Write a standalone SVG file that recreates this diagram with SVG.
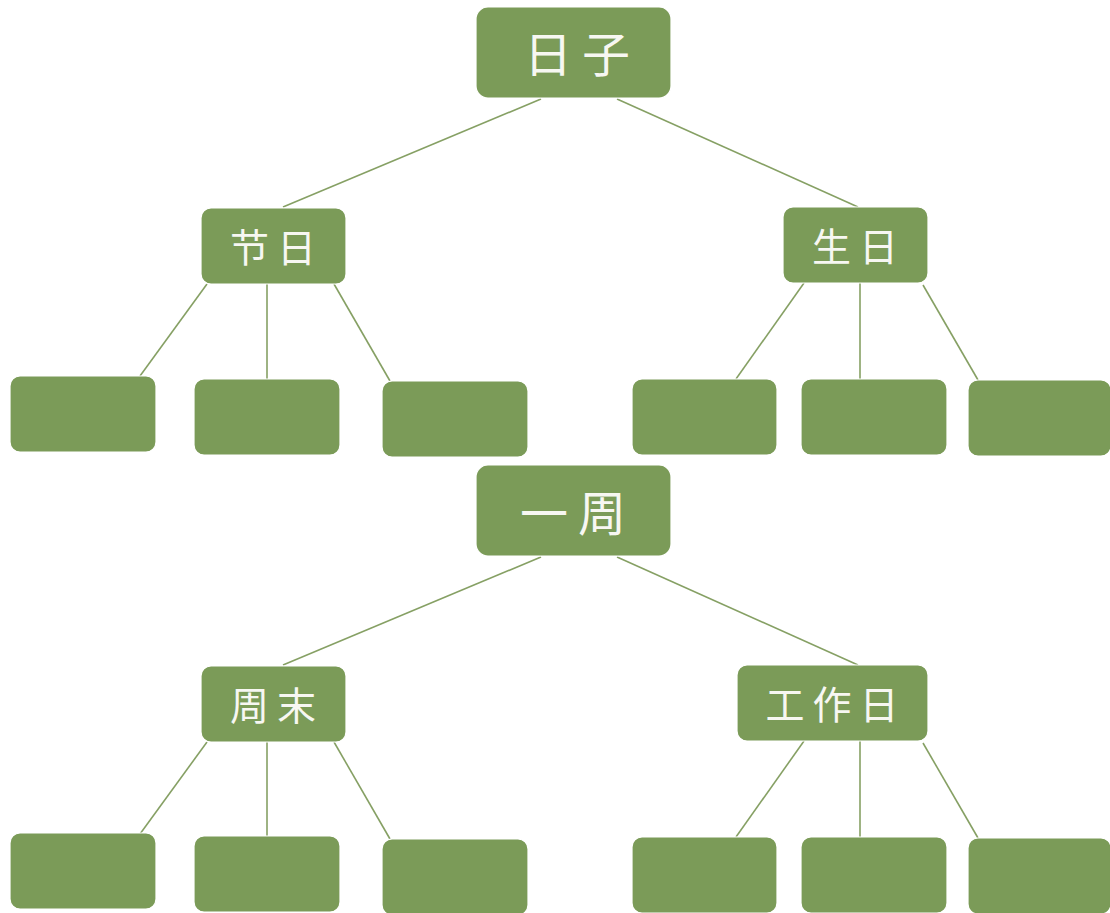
<svg xmlns="http://www.w3.org/2000/svg" width="1110" height="913" viewBox="0 0 1110 913">
<style>
.box{fill:#7b9b58;stroke:#ffffff;stroke-width:1.2}
.ln{stroke:#86a064;stroke-width:1.6;fill:none}
.t{fill:#f7f7f2;font-family:"Noto Sans CJK SC","Noto Sans CJK TC",sans-serif;font-weight:400;text-anchor:middle;dominant-baseline:central}
.big{font-size:48px;letter-spacing:10px}
.mid{font-size:39px;letter-spacing:8px}
</style>
<rect width="1110" height="913" fill="#ffffff"/>
<g id="connectors">
<line class="ln" x1="541" y1="99" x2="283" y2="207"/>
<line class="ln" x1="617" y1="99" x2="858" y2="207"/>
<line class="ln" x1="207" y1="284" x2="140" y2="376"/>
<line class="ln" x1="267" y1="284" x2="267" y2="379"/>
<line class="ln" x1="334" y1="284" x2="390" y2="381"/>
<line class="ln" x1="804" y1="283" x2="736" y2="379"/>
<line class="ln" x1="860" y1="283" x2="860" y2="379"/>
<line class="ln" x1="923" y1="285" x2="978" y2="380"/>
<line class="ln" x1="541" y1="557" x2="283" y2="665"/>
<line class="ln" x1="617" y1="557" x2="858" y2="665"/>
<line class="ln" x1="207" y1="742" x2="140" y2="834"/>
<line class="ln" x1="267" y1="742" x2="267" y2="837"/>
<line class="ln" x1="334" y1="742" x2="390" y2="839"/>
<line class="ln" x1="804" y1="741" x2="736" y2="837"/>
<line class="ln" x1="860" y1="741" x2="860" y2="837"/>
<line class="ln" x1="923" y1="743" x2="978" y2="838"/>
</g>
<g id="n-rizi"><rect class="box" x="476" y="7" width="195" height="91" rx="12"/><text class="t big" x="582" y="51">日子</text></g>
<g id="n-jieri"><rect class="box" x="201" y="208" width="145" height="76" rx="10"/><text class="t mid" x="277" y="245">节日</text></g>
<g id="n-shengri"><rect class="box" x="783" y="207" width="145" height="76" rx="10"/><text class="t mid" x="859" y="244">生日</text></g>
<g id="l1"><rect class="box" x="10" y="376" width="146" height="76" rx="10"/></g>
<g id="l2"><rect class="box" x="194" y="379" width="146" height="76" rx="10"/></g>
<g id="l3"><rect class="box" x="382" y="381" width="146" height="76" rx="10"/></g>
<g id="l4"><rect class="box" x="632" y="379" width="145" height="76" rx="10"/></g>
<g id="l5"><rect class="box" x="801" y="379" width="146" height="76" rx="10"/></g>
<g id="l6"><rect class="box" x="968" y="380" width="143" height="76" rx="10"/></g>
<g id="n-yizhou"><rect class="box" x="476" y="465" width="195" height="91" rx="12"/><text class="t big" x="578" y="510">一周</text></g>
<g id="n-zhoumo"><rect class="box" x="201" y="666" width="145" height="76" rx="10"/><text class="t mid" x="277" y="703">周末</text></g>
<g id="n-gongzuori"><rect class="box" x="737" y="665" width="191" height="76" rx="10"/><text class="t mid" x="836" y="702">工作日</text></g>
<g id="l7"><rect class="box" x="10" y="833" width="146" height="76" rx="10"/></g>
<g id="l8"><rect class="box" x="194" y="836" width="146" height="76" rx="10"/></g>
<g id="l9"><rect class="box" x="382" y="839" width="146" height="76" rx="10"/></g>
<g id="l10"><rect class="box" x="632" y="837" width="145" height="76" rx="10"/></g>
<g id="l11"><rect class="box" x="801" y="837" width="146" height="76" rx="10"/></g>
<g id="l12"><rect class="box" x="968" y="838" width="143" height="76" rx="10"/></g>
</svg>
